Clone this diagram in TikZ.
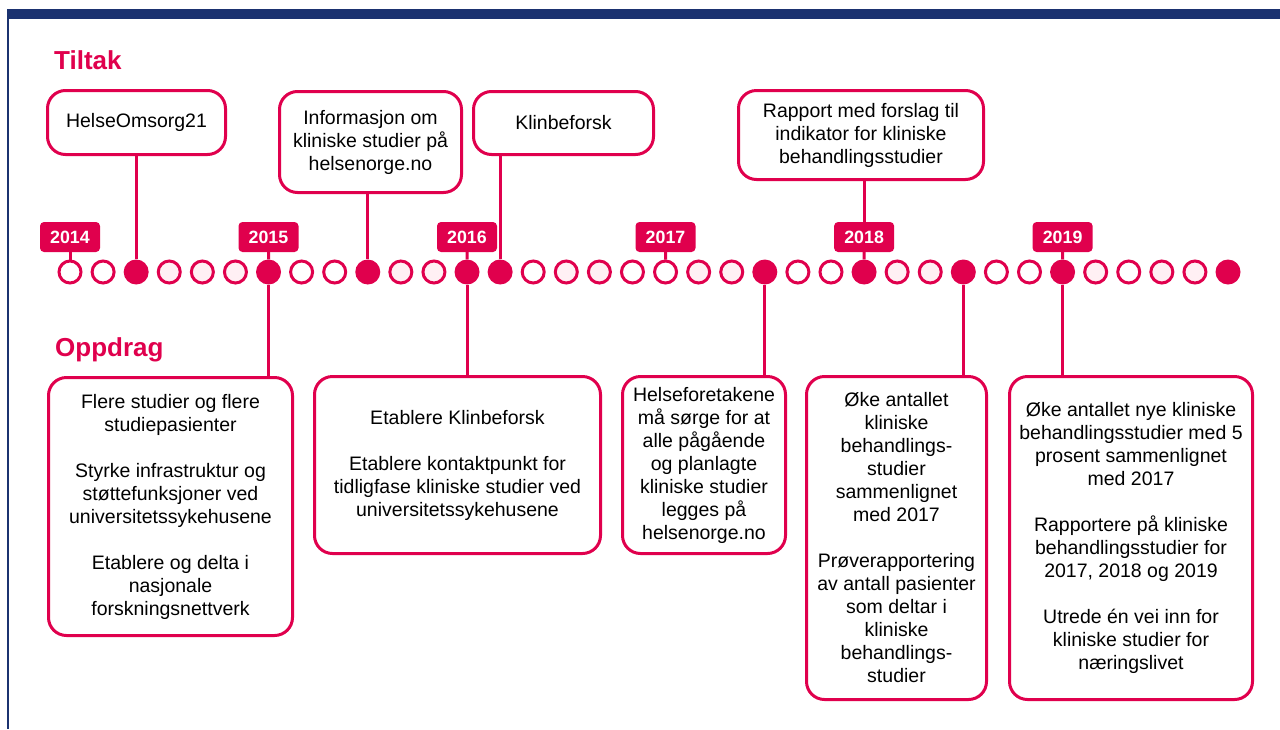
\documentclass[tikz,border=0pt]{standalone}
\usepackage{fontspec}
\setmainfont{Liberation Sans}
\definecolor{crim}{HTML}{E0004D}
\definecolor{navy}{HTML}{1B3270}
\definecolor{pinkfill}{HTML}{FFF0F4}
\begin{document}
\begin{tikzpicture}[x=1pt,y=-1pt,
  box/.style={draw=crim, line width=3pt, rounded corners=18pt, fill=white, align=center, inner sep=0pt, font=\fontsize{19.5}{23}\selectfont},
  yearbox/.style={fill=crim, rounded corners=4pt, minimum width=60pt, minimum height=30pt, inner sep=0pt, text=white, font=\fontsize{17.8}{20}\selectfont\bfseries},
  dotopen/.style={circle, draw=crim, line width=3pt, minimum size=22pt, inner sep=0pt, fill=white},
  dotpink/.style={dotopen, fill=pinkfill},
  dotfull/.style={circle, fill=crim, minimum size=25pt, inner sep=0pt},
  conn/.style={draw=crim, line width=3pt},
  title/.style={text=crim, font=\fontsize{26}{30}\selectfont\bfseries, anchor=base west, inner sep=0pt}
]
\useasboundingbox (0,0) rectangle (1280,729);
\fill[white] (0,0) rectangle (1280,729);
% frame
\fill[navy] (7,9) rectangle (1280,19);
\fill[navy] (7,19) rectangle (9,729);

% titles
\node[title] (tiltak) at (54,69) {Tiltak};
\node[title] (oppdrag) at (55,356) {Oppdrag};

% timeline dots
\foreach \t [count=\i from 0] in {dotopen,dotopen,dotfull,dotpink,dotpink,dotpink,dotfull,dotopen,dotopen,dotfull,dotpink,dotpink,dotfull,dotfull,dotopen,dotpink,dotpink,dotopen,dotopen,dotpink,dotpink,dotfull,dotopen,dotopen,dotfull,dotpink,dotpink,dotfull,dotopen,dotopen,dotfull,dotpink,dotopen,dotpink,dotpink,dotfull}
  \node[\t] (c\i) at ({70+33.086*\i},272) {};

% year boxes
\node[yearbox] (y2014) at (70,237) {2014};
\node[yearbox] (y2015) at (268.5,237) {2015};
\node[yearbox] (y2016) at (467.0,237) {2016};
\node[yearbox] (y2017) at (665.5,237) {2017};
\node[yearbox] (y2018) at (864.1,237) {2018};
\node[yearbox] (y2019) at (1062.6,237) {2019};
\draw[conn] (y2014.south) -- (c0.north);
\draw[conn] (y2015.south) -- (c6.north);
\draw[conn] (y2016.south) -- (c12.north);
\draw[conn] (y2017.south) -- (c18.north);
\draw[conn] (y2018.south) -- (c24.north);
\draw[conn] (y2019.south) -- (c30.north);

% top boxes (Tiltak)
\node[box, minimum width=178pt, minimum height=64pt] (t1) at (136.5,122.5) {HelseOmsorg21};
\node[box, minimum width=182pt, minimum height=101pt] (t2) at (370.5,142) {Informasjon om\\kliniske studier på\\helsenorge.no};
\node[box, minimum width=180pt, minimum height=63pt] (t3) at (563.5,123) {Klinbeforsk};
\node[box, minimum width=245pt, minimum height=89pt] (t4) at (861,135) {Rapport med forslag til\\indikator for kliniske\\behandlingsstudier};

\draw[conn] (t1.south -| c2) -- (c2.north);
\draw[conn] (t2.south -| c9) -- (c9.north);
\draw[conn] (t3.south -| c13) -- (c13.north);
\draw[conn] (t4.south -| y2018) -- (y2018.north);

% bottom boxes (Oppdrag)
\node[box, minimum width=244pt, minimum height=258pt] (b1) at (170.5,506.5) {Flere studier og flere\\studiepasienter\\[23pt]Styrke infrastruktur og\\støttefunksjoner ved\\universitetssykehusene\\[23pt]Etablere og delta i\\nasjonale\\forskningsnettverk};
\node[box, minimum width=286pt, minimum height=177pt] (b2) at (457.5,465) {Etablere Klinbeforsk\\[23pt]Etablere kontaktpunkt for\\tidligfase kliniske studier ved\\universitetssykehusene};
\node[box, minimum width=163pt, minimum height=177pt] (b3) at (704,465) {Helseforetakene\\må sørge for at\\alle pågående\\og planlagte\\kliniske studier\\legges på\\helsenorge.no};
\node[box, minimum width=180pt, minimum height=323pt] (b4) at (896.5,538) {Øke antallet\\kliniske\\behandlings-\\studier\\sammenlignet\\med 2017\\[23pt]Prøverapportering\\av antall pasienter\\som deltar i\\kliniske\\behandlings-\\studier};
\node[box, minimum width=243pt, minimum height=323pt] (b5) at (1131,538) {Øke antallet nye kliniske\\behandlingsstudier med 5\\prosent sammenlignet\\med 2017\\[23pt]Rapportere på kliniske\\behandlingsstudier for\\2017, 2018 og 2019\\[23pt]Utrede én vei inn for\\kliniske studier for\\næringslivet};

\draw[conn] (c6.south) -- (c6 |- b1.north);
\draw[conn] (c12.south) -- (c12 |- b2.north);
\draw[conn] (c21.south) -- (c21 |- b3.north);
\draw[conn] (c27.south) -- (c27 |- b4.north);
\draw[conn] (c30.south) -- (c30 |- b5.north);
\end{tikzpicture}
\end{document}
